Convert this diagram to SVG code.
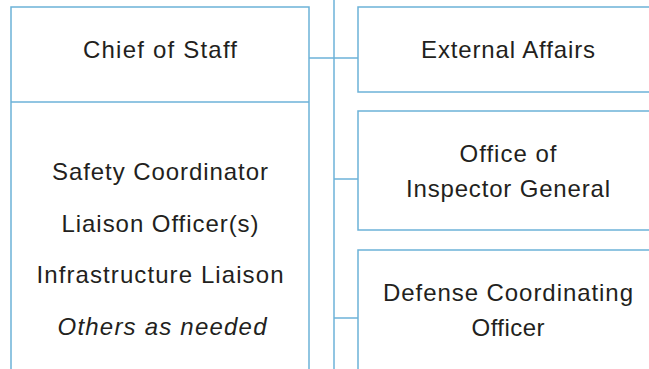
<svg xmlns="http://www.w3.org/2000/svg" width="649" height="369" viewBox="0 0 649 369">
<style>
.box{fill:#ffffff;stroke:#6cb2d8;stroke-width:1.5}
.ln{fill:none;stroke:#6cb2d8;stroke-width:1.5}
text{font-family:"Liberation Sans",Arial,sans-serif;font-size:24px;fill:#231f20;text-anchor:middle}
.it{font-style:italic}
</style>
<rect width="649" height="369" fill="#ffffff"/>
<g id="connectors">
<line class="ln" x1="334" y1="0" x2="334" y2="369"/>
<line class="ln" x1="309" y1="58" x2="358" y2="58"/>
<line class="ln" x1="334" y1="179" x2="358" y2="179"/>
<line class="ln" x1="334" y1="318" x2="358" y2="318"/>
</g>
<g id="chief-of-staff">
<path class="ln" d="M11,375 V7 H309 V375"/>
<line class="ln" x1="11" y1="102" x2="309" y2="102"/>
<text x="160" y="58" textLength="154" lengthAdjust="spacing">Chief of Staff</text>
</g>
<g id="staff-list">
<text x="160" y="180" textLength="216" lengthAdjust="spacing">Safety Coordinator</text>
<text x="160" y="232" textLength="197" lengthAdjust="spacing">Liaison Officer(s)</text>
<text x="160" y="283" textLength="247" lengthAdjust="spacing">Infrastructure Liaison</text>
<text class="it" x="162" y="335" textLength="209" lengthAdjust="spacing">Others as needed</text>
</g>
<g id="external-affairs">
<rect class="box" x="358" y="7" width="300" height="85"/>
<text x="508" y="58" textLength="174" lengthAdjust="spacing">External Affairs</text>
</g>
<g id="inspector-general">
<rect class="box" x="358" y="111" width="300" height="119"/>
<text x="508" y="162" textLength="97" lengthAdjust="spacing">Office of</text>
<text x="508" y="197" textLength="204" lengthAdjust="spacing">Inspector General</text>
</g>
<g id="defense-coordinating-officer">
<rect class="box" x="358" y="250" width="300" height="130"/>
<text x="508" y="301" textLength="250" lengthAdjust="spacing">Defense Coordinating</text>
<text x="508" y="336" textLength="73" lengthAdjust="spacing">Officer</text>
</g>
</svg>
